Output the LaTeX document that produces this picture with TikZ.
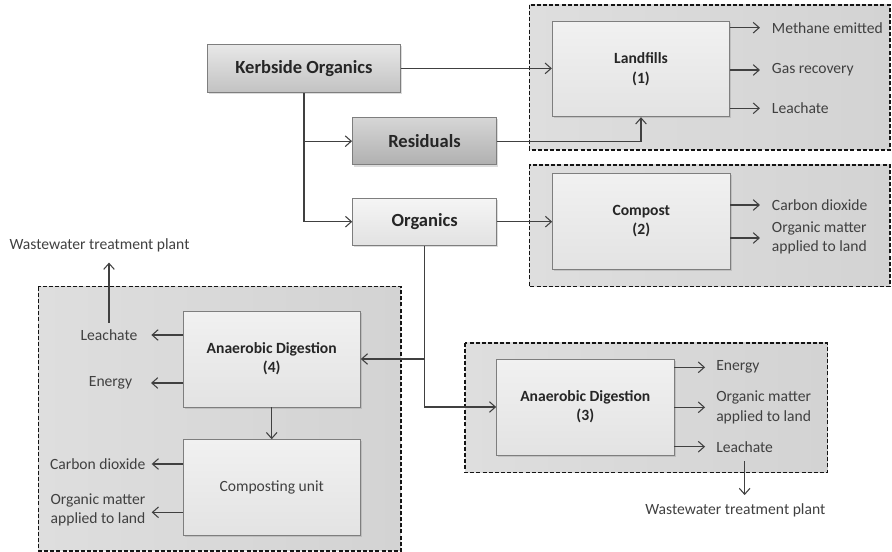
\documentclass[tikz,border=0pt]{standalone}
\usepackage{fontspec}
\setmainfont{Carlito}
\usetikzlibrary{arrows.meta,shadows}

\definecolor{ink}{HTML}{404040}
\definecolor{txt}{HTML}{404040}
\definecolor{titleink}{HTML}{262626}
\definecolor{edge}{HTML}{7E7E7E}
\definecolor{grpL}{HTML}{DEDEDE}
\definecolor{grpR}{HTML}{D3D3D3}
\definecolor{stageT}{HTML}{F1F1F1}
\definecolor{stageB}{HTML}{E3E3E3}
\definecolor{kerbT}{HTML}{E8E8E8}
\definecolor{kerbB}{HTML}{C2C2C2}
\definecolor{resT}{HTML}{D6D6D6}
\definecolor{resB}{HTML}{B0B0B0}
\definecolor{orgT}{HTML}{F5F5F5}
\definecolor{orgB}{HTML}{E2E2E2}

\begin{document}
\begin{tikzpicture}[x=0.75pt,y=-0.75pt,
  every node/.style={text=txt},
  lbl/.style={font=\fontsize{11.7}{14.6}\selectfont, inner sep=0pt, align=left},
  group/.style={draw=black!92, dash pattern=on 3pt off 1.6pt, line width=1.2pt,
                left color=grpL, right color=grpR},
  base/.style={draw=edge, line width=0.7pt,
               drop shadow={opacity=0.28, shadow xshift=1.2pt, shadow yshift=-1.3pt}},
  stage/.style={base, top color=stageT, bottom color=stageB,
                minimum width=133pt, minimum height=72pt, align=center,
                font=\bfseries\fontsize{11.7}{14.3}\selectfont, text=titleink},
  stream/.style={base, minimum width=108pt, minimum height=35.5pt,
                 font=\bfseries\fontsize{13.9}{16}\selectfont, text=titleink},
  arr/.style={draw=ink, line width=0.9pt, -{Straight Barb[length=4.5pt,width=8pt,line width=0.8pt]}}
]
\useasboundingbox (0,0) rectangle (892,552);

% dashed process groups
\path[group] (529.3,5) rectangle (890,150);
\path[group] (529.3,165) rectangle (890,286.5);
\path[group] (465,342.7) rectangle (827.3,472.3);
\path[group] (38.3,286.7) rectangle (401,550.7);

% waste streams
\node[stream, minimum width=145pt, minimum height=36.5pt,
      top color=kerbT, bottom color=kerbB] (kerb) at (304,68.4) {Kerbside Organics};
\node[stream, top color=resT, bottom color=resB] (res) at (424.5,141.2) {Residuals};
\node[stream, top color=orgT, bottom color=orgB] (org) at (424.7,221.7) {Organics};

% treatment stages
\node[stage, minimum height=71.3pt] (land) at (641,69.2) {Landfills\\(1)};
\node[stage] (comp) at (641.3,221.3) {Compost\\(2)};
\node[stage] (ad3) at (585.3,407) {Anaerobic Digestion\\(3)};
\node[stage] (ad4) at (271.7,359) {Anaerobic Digestion\\(4)};
\node[stage, font=\fontsize{11.7}{14.3}\selectfont, text=txt] (cu) at (271.7,487.7) {Composting unit};

% outputs
\node[lbl, anchor=west] (l1a) at (771.7,27.7) {Methane emitted};
\node[lbl, anchor=west] (l1b) at (771.7,70) {Gas recovery};
\node[lbl, anchor=west] (l1c) at (771.7,108.3) {Leachate};
\node[lbl, anchor=west] (l2a) at (771.7,205) {Carbon dioxide};
\node[lbl, anchor=west] (l2b) at (771.7,238) {Organic matter\\applied to land};
\node[lbl, anchor=west] (l3a) at (716,367.3) {Energy};
\node[lbl, anchor=west] (l3b) at (716,407.3) {Organic matter\\applied to land};
\node[lbl, anchor=west] (l3c) at (716,446.7) {Leachate};
\node[lbl] (ww3) at (735.3,510.7) {Wastewater treatment plant};
\node[lbl] (l4a) at (109,335) {Leachate};
\node[lbl] (l4b) at (110.5,383) {Energy};
\node[lbl, anchor=east] (l4c) at (145.7,464) {Carbon dioxide};
\node[lbl, anchor=east] (l4d) at (145.7,510) {Organic matter\\applied to land};
\node[lbl] (ww4) at (99.5,245) {Wastewater treatment plant};

% flows between streams and stages
\draw[arr] (kerb.east) -- (kerb.east -| land.west);
\draw[arr] (kerb.south) |- (org.west);
\draw[arr] (kerb.south |- res.west) -- (res.west);
\draw[arr] (res.east) -| (land.south);
\draw[arr] (org.east) -- (org.east -| comp.west);
\draw[arr] (org.south) |- (ad3.west);
\draw[arr] (org.south |- ad4.east) -- (ad4.east);
\draw[arr] (ad4.south) -- (cu.north);

% stage outputs
\draw[arr, shorten >=8.8pt] (land.east |- l1a) -- (l1a.west);
\draw[arr, shorten >=8.8pt] (land.east |- l1b) -- (l1b.west);
\draw[arr, shorten >=8.8pt] (land.east |- l1c) -- (l1c.west);
\draw[arr, shorten >=8.8pt] (comp.east |- l2a) -- (l2a.west);
\draw[arr, shorten >=8.8pt] (comp.east |- l2b) -- (l2b.west);
\draw[arr, shorten >=8.2pt] (ad3.east |- l3a) -- (l3a.west);
\draw[arr, shorten >=8.2pt] (ad3.east |- l3b) -- (l3b.west);
\draw[arr, shorten >=8.2pt] (ad3.east |- l3c) -- (l3c.west);
\draw[arr, shorten >=10.3pt] (ad4.west |- l4a) -- (l4a.east);
\draw[arr, shorten >=14pt] (ad4.west |- l4b) -- (l4b.east);
\draw[arr, shorten >=4.5pt] (cu.west |- l4c) -- (l4c.east);
\draw[arr, shorten >=4.5pt] (cu.west |- 0,512.3) -- (l4d.east |- 0,512.3);
\draw[arr, shorten <=5pt, shorten >=8pt] (l4a.north) -- (l4a.north |- ww4.south);
\draw[arr, shorten <=6.7pt, shorten >=6.5pt] (l3c.south) -- (l3c.south |- ww3.north);
\end{tikzpicture}
\end{document}
